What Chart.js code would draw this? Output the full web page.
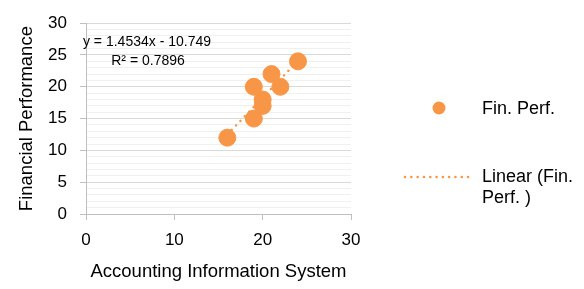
<!DOCTYPE html>
<html>
<head>
<meta charset="utf-8">
<script src="https://cdn.jsdelivr.net/npm/chart.js@4.4.0/dist/chart.umd.min.js"></script>
<style>
  html, body { margin: 0; padding: 0; background: #fff; }
  #wrap { width: 584px; height: 289px; position: relative; }
</style>
</head>
<body>
<div id="wrap"><canvas id="grafico" width="584" height="289"></canvas></div>
<script>
// datos
const aisValores = [16, 19, 19, 20, 20, 21, 22, 24];
const finPerfValores = [12, 15, 20, 17, 18, 22, 20, 24];
const tendenciaX = [16, 24];
const tendenciaY = [12.5, 24.1];
const etiquetaEcuacion = 'y = 1.4534x - 10.749';
const etiquetaR2 = 'R² = 0.7896';
const nombreSerie = 'Fin. Perf.';
const nombreTendencia = ['Linear (Fin.', 'Perf. )'];

const naranja = '#F79646';
const fuente = "'Liberation Sans', Arial, sans-serif";

const puntos = aisValores.map((x, i) => ({ x: x, y: finPerfValores[i] }));
const tendencia = tendenciaX.map((x, i) => ({ x: x, y: tendenciaY[i] }));

const extras = {
    id: 'extras',
    afterDraw(chart) {
        const ctx = chart.ctx;
        ctx.save();
        ctx.fillStyle = '#000';
        ctx.font = '14px ' + fuente;
        ctx.textAlign = 'center';
        ctx.textBaseline = 'middle';
        ctx.fillText(etiquetaEcuacion, 147, 42);
        ctx.fillText(etiquetaR2, 148, 61);

        // leyenda
        ctx.beginPath();
        ctx.fillStyle = naranja;
        ctx.arc(439, 108, 6.5, 0, Math.PI * 2);
        ctx.fill();

        ctx.strokeStyle = naranja;
        ctx.lineWidth = 2.5;
        ctx.lineCap = 'round';
        ctx.setLineDash([0.1, 6.2]);
        ctx.beginPath();
        ctx.moveTo(405, 177);
        ctx.lineTo(474, 177);
        ctx.stroke();
        ctx.setLineDash([]);

        ctx.fillStyle = '#000';
        ctx.font = '18px ' + fuente;
        ctx.textAlign = 'left';
        ctx.fillText(nombreSerie, 482, 109);
        ctx.fillText(nombreTendencia[0], 482, 177);
        ctx.fillText(nombreTendencia[1], 482, 198);
        ctx.restore();
    }
};

new Chart(document.getElementById('grafico'), {
    type: 'scatter',
    data: {
        datasets: [
            {
                type: 'line',
                label: 'Linear',
                data: tendencia,
                borderColor: naranja,
                borderWidth: 2.5,
                borderDash: [0.1, 6.2],
                borderCapStyle: 'round',
                pointRadius: 0,
                fill: false
            },
            {
                label: nombreSerie,
                data: puntos,
                backgroundColor: naranja,
                borderColor: naranja,
                pointRadius: 8.5,
                pointHoverRadius: 8.5
            }
        ]
    },
    options: {
        responsive: false,
        animation: false,
        layout: { padding: { left: 12, top: 20, right: 233, bottom: 2 } },
        plugins: { legend: { display: false }, tooltip: { enabled: false } },
        scales: {
            x: {
                type: 'linear',
                min: 0, max: 30,
                ticks: { stepSize: 10, color: '#000', font: { family: fuente, size: 17 }, padding: 10 },
                grid: { drawOnChartArea: false, tickLength: 6, color: '#bfbfbf' },
                border: { color: '#bfbfbf' },
                title: { display: true, text: 'Accounting Information System', color: '#000',
                         font: { family: fuente, size: 18.5 }, padding: { top: 8 } },
                afterFit(scale) { scale.height = 73; }
            },
            y: {
                min: 0, max: 30,
                ticks: {
                    stepSize: 1, autoSkip: false, color: '#000',
                    font: { family: fuente, size: 17 }, padding: 13,
                    callback: v => (v % 5 === 0 ? v : '')
                },
                grid: {
                    tickLength: 6,
                    color: c => (c.tick && c.tick.value % 5 === 0 ? '#d9d9d9' : '#f0f0f0'),
                    tickColor: c => (c.tick && c.tick.value % 5 === 0 ? '#bfbfbf' : 'rgba(0,0,0,0)')
                },
                border: { color: '#bfbfbf' },
                title: { display: true, text: 'Financial Performance', color: '#000',
                         font: { family: fuente, size: 18.5 }, padding: { bottom: 0 } },
                afterFit(scale) { scale.width = 74; }
            }
        }
    },
    plugins: [extras]
});
</script>
</body>
</html>
